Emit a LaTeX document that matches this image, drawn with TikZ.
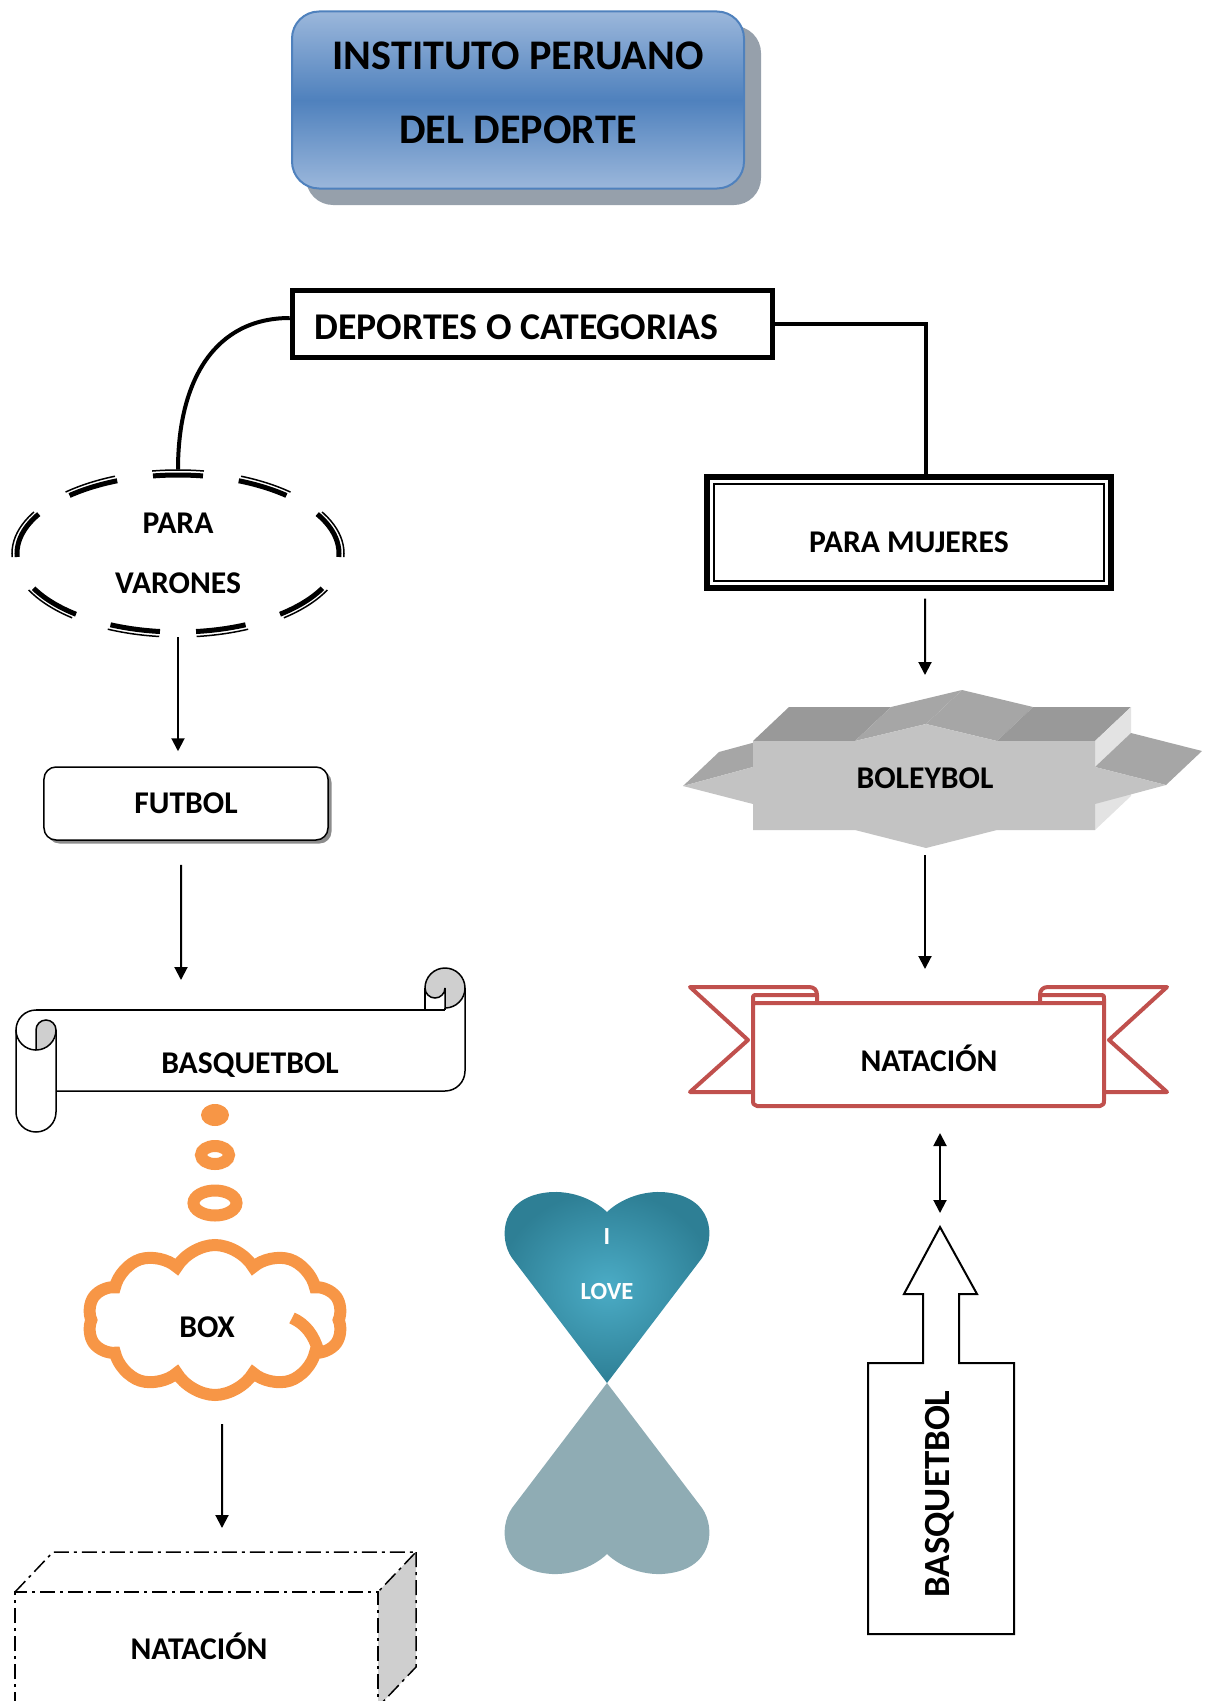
\documentclass[tikz,border=0pt]{standalone}
\usepackage{fontspec}
\setmainfont{Carlito}
\usetikzlibrary{arrows.meta,positioning,calc,shapes.geometric,shapes.symbols,shadows}
\usepackage{xcolor}
\definecolor{titleblue}{HTML}{4F81BD}
\definecolor{titlelight}{HTML}{9BB7DB}
\definecolor{titleshadow}{HTML}{96A0AB}
\definecolor{natred}{HTML}{C0504D}
\definecolor{cloudorange}{HTML}{F79646}
\definecolor{heartin}{HTML}{4BACC6}
\definecolor{heartout}{HTML}{2E7F95}
\definecolor{heartshade}{HTML}{8FACB4}
\definecolor{starfront}{HTML}{C3C3C3}
\definecolor{startop}{HTML}{999999}
\definecolor{starslope}{HTML}{A6A6A6}
\definecolor{starside}{HTML}{E3E3E3}
\definecolor{rollgray}{HTML}{CFCFCF}
\pgfdeclareverticalshading{titleshade}{100bp}{color(0bp)=(titlelight); color(25bp)=(titlelight); color(50bp)=(titleblue); color(75bp)=(titlelight); color(100bp)=(titlelight)}
\tikzset{
  lbl/.style={font=\fontsize{18}{22}\selectfont\bfseries,inner sep=0pt},
  arr/.style={-{Triangle[length=2.6mm,width=2.6mm]},line width=0.4mm},
  dblarr/.style={{Triangle[length=2.6mm,width=2.6mm]}-{Triangle[length=2.6mm,width=2.6mm]},line width=0.4mm},
  link/.style={line width=0.8mm},
  cubeline/.style={line width=0.3mm,dash pattern=on 3mm off 1mm on 0.6mm off 1mm},
  ribbon/.style={draw=natred,line width=0.8mm,line join=round,line cap=round},
  titlebox/.style={draw=titleblue,line width=0.4mm,rounded corners=5.4mm,shading=titleshade,minimum width=90.4mm,minimum height=35.4mm}
}

\begin{document}
\begin{tikzpicture}[x=0.2mm,y=-0.2mm]
  \useasboundingbox (0,0) rectangle (1211,1701);

  % cabecera
  \fill[titleshadow,rounded corners=5.4mm] (306,26) rectangle (761,205);
  \node[titlebox] (inst) at (518,100) {};
  \node[font=\fontsize{24}{42}\selectfont\bfseries,align=center] (insttxt) at (518,93) {INSTITUTO PERUANO\\DEL DEPORTE};

  \node[draw,line width=1.1mm,minimum width=96mm,minimum height=13.4mm] (cat) at (532.5,324) {};
  \node[anchor=west,inner sep=0pt,font=\fontsize{21.5}{24}\selectfont\bfseries] (cattxt) at (314,327) {DEPORTES O CATEGORIAS};

  % varones
  \node[lbl,ellipse,minimum width=66.4mm,minimum height=33.4mm,align=center,font=\fontsize{18}{34}\selectfont\bfseries] (varones) at (178,553.5) {PARA\\VARONES};
  \draw[line width=0.3mm,dash pattern=on 10.4mm off 7.5mm,dash phase=5.2mm] ([yshift=16.7mm]varones.center) arc[start angle=270,end angle=630,x radius=166,y radius=83.5];
  \draw[line width=1mm,dash pattern=on 10mm off 7.22mm,dash phase=5mm] ([yshift=15.7mm]varones.center) arc[start angle=270,end angle=630,x radius=161,y radius=78.5];

  \draw[link] ([yshift=1.2mm]cat.west) .. controls (215,318) and (178,380) .. (varones.north);

  % mujeres
  \node[draw,line width=1.2mm,minimum width=80.8mm,minimum height=22.2mm] (mujeres) at (909,532.5) {};
  \draw[line width=0.3mm] ([shift={(2mm,-2mm)}]mujeres.north west) rectangle ([shift={(-2mm,2mm)}]mujeres.south east);
  \node[lbl] (mujerestxt) at (909,542) {PARA MUJERES};
  \draw[link] (cat.east) -| ([xshift=3.4mm]mujeres.north);

  % futbol
  \node[lbl,draw,line width=0.3mm,rounded corners=2.4mm,minimum width=56.8mm,minimum height=14.6mm,fill=white,drop shadow={shadow xshift=0.7mm,shadow yshift=-0.7mm,fill=black!45,opacity=1}] (futbol) at (186,803.5) {FUTBOL};
  \draw[arr,shorten >=3mm] (varones.south) -- (varones.south |- futbol.north);

  % pergamino
  \coordinate (scrolltop) at (181,1009);
  \draw[line width=0.3mm] (36,1010) arc[start angle=270,end angle=90,radius=20];
  \draw[line width=0.3mm] (16,1030) -- (16,1112) arc[start angle=180,end angle=0,radius=20] -- (56,1030);
  \draw[line width=0.3mm,fill=rollgray] (36,1050) -- (36,1030) arc[start angle=180,end angle=360,radius=10] arc[start angle=0,end angle=90,radius=20] -- cycle;
  \draw[line width=0.3mm] (36,1010) -- (445,1010);
  \draw[line width=0.3mm] (56,1091) -- (445,1091) .. controls (456,1091) and (465,1082) .. (465,1071) -- (465,988);
  \draw[line width=0.3mm,fill=rollgray] (425,988) arc[start angle=180,end angle=450,radius=20] -- (445,988) arc[start angle=0,end angle=180,radius=10] -- cycle;
  \draw[line width=0.3mm] (425,988) -- (425,1010) (445,1008) -- (445,1010);
  \node[lbl] (basq) at (250,1065) {BASQUETBOL};
  \draw[arr,shorten <=4.8mm,shorten >=5.8mm] ([xshift=-1mm]futbol.south) -- (scrolltop);

  % pensamiento
  \fill[cloudorange] (215,1115) ellipse[x radius=14,y radius=11];
  \draw[cloudorange,line width=2.4mm] (215,1155) ellipse[x radius=14,y radius=9];
  \draw[cloudorange,line width=2.4mm] (215,1203) ellipse[x radius=21.5,y radius=12.5];
  \node[cloud,cloud puffs=10,cloud puff arc=120,aspect=1.6,draw=cloudorange,line width=2.4mm,minimum width=51mm,minimum height=30mm] (box) at (215,1320) {};
  \draw[cloudorange,line width=2.4mm] (292,1318) .. controls (306,1324) and (314,1336) .. (318,1350);
  \node[lbl] (boxtxt) at (207,1327) {BOX};

  % caja natacion
  \coordinate (cubetop) at (222,1552);
  \fill[rollgray] (378,1592) -- (416,1552) -- (416,1667) -- (378,1707) -- cycle;
  \draw[cubeline] (15,1707) -- (15,1592) -- (378,1592) -- (378,1707);
  \draw[cubeline] (15,1592) -- (53,1552) -- (416,1552) -- (378,1592);
  \draw[cubeline] (416,1552) -- (416,1667) -- (378,1707);
  \node[lbl] (natcube) at (199,1646) {NATACIÓN};
  \draw[arr,shorten <=4.6mm,shorten >=4.8mm] ([xshift=1.4mm]box.south) -- (cubetop);

  % estrella boleybol
  \coordinate (boleytop) at (925,690);
  \coordinate (boleybot) at (925,848);
  \fill[starside] (1095,804) -- (1095,830) -- (1131,796) -- (1131,770) -- cycle;
  \fill[starslope] (683,786) -- (753,767) -- (789,733) -- (719,752) -- cycle;
  \fill[startop] (753,741) -- (855,741) -- (891,707) -- (789,707) -- cycle;
  \fill[starslope] (855,741) -- (926,724) -- (962,690) -- (891,707) -- cycle;
  \fill[starslope] (926,724) -- (997,741) -- (1033,707) -- (962,690) -- cycle;
  \fill[startop] (997,741) -- (1095,741) -- (1131,707) -- (1033,707) -- cycle;
  \fill[starside] (1095,741) -- (1095,767) -- (1131,733) -- (1131,707) -- cycle;
  \fill[starslope] (1095,767) -- (1166,785) -- (1202,751) -- (1131,733) -- cycle;
  \fill[starfront] (753,741) -- (855,741) -- (926,724) -- (997,741) -- (1095,741) -- (1095,767) -- (1166,785) -- (1095,804) -- (1095,830) -- (997,830) -- (926,848) -- (855,830) -- (753,830) -- (753,804) -- (683,786) -- (753,767) -- cycle;
  \node[lbl] (boley) at (925,778) {BOLEYBOL};
  \draw[arr,shorten <=1.5mm,shorten >=3mm] ([xshift=3.2mm]mujeres.south) -- (boleytop);

  % cinta natacion
  \coordinate (ribtop) at (925,987);
  \coordinate (ribbot) at (940,1108);
  \draw[ribbon] (753,1092) -- (690,1092) -- (748,1040) -- (690,987) -- (809,987) .. controls (814,987) and (817,990) .. (817,995) -- (817,1003);
  \draw[ribbon] (1104,1092) -- (1167,1092) -- (1109,1040) -- (1167,987) -- (1048,987) .. controls (1043,987) and (1040,990) .. (1040,995) -- (1040,1003);
  \draw[ribbon,fill=white] (753,1003) -- (753,1100) .. controls (753,1104) .. (757,1106) -- (1100,1106) .. controls (1104,1104) .. (1104,1100) -- (1104,1003) -- cycle;
  \draw[ribbon] (753,1003) -- (753,999) .. controls (753,995) .. (758,995) -- (815,995);
  \draw[ribbon] (1104,1003) -- (1104,999) .. controls (1104,995) .. (1099,995) -- (1042,995);
  \node[lbl] (natrib) at (929,1058) {NATACIÓN};
  \draw[arr,shorten <=1.4mm,shorten >=3.6mm] (boleybot) -- (ribtop);

  % flecha basquetbol
  \coordinate (uptip) at (940,1227);
  \draw[line width=0.4mm] (868,1634) -- (868,1363) -- (923,1363) -- (923,1294) -- (904,1294) -- (uptip) -- (977,1294) -- (959,1294) -- (959,1363) -- (1014,1363) -- (1014,1634) -- cycle;
  \node[lbl,rotate=90,font=\fontsize{21}{24}\selectfont\bfseries] (basq2) at (940,1494) {BASQUETBOL};
  \draw[dblarr,shorten <=5mm,shorten >=2.8mm] (ribbot) -- (uptip);

  % corazon
  \shade[inner color=heartin,outer color=heartout] (607,1383) -- (512,1258) .. controls (498,1238) and (500,1195) .. (552,1192) .. controls (580,1191) and (600,1205) .. (607,1212) .. controls (614,1205) and (634,1191) .. (662,1192) .. controls (714,1195) and (716,1238) .. (702,1258) -- cycle;
  \fill[heartshade] (607,1383) -- (512,1508) .. controls (498,1528) and (500,1571) .. (552,1574) .. controls (580,1575) and (600,1561) .. (607,1554) .. controls (614,1561) and (634,1575) .. (662,1574) .. controls (714,1571) and (716,1528) .. (702,1508) -- cycle;
  \node[font=\fontsize{14}{16}\selectfont\bfseries,text=white] (heartI) at (607,1237) {I};
  \node[font=\fontsize{14}{16}\selectfont\bfseries,text=white] (love) at (607,1292) {LOVE};
\end{tikzpicture}
\end{document}
